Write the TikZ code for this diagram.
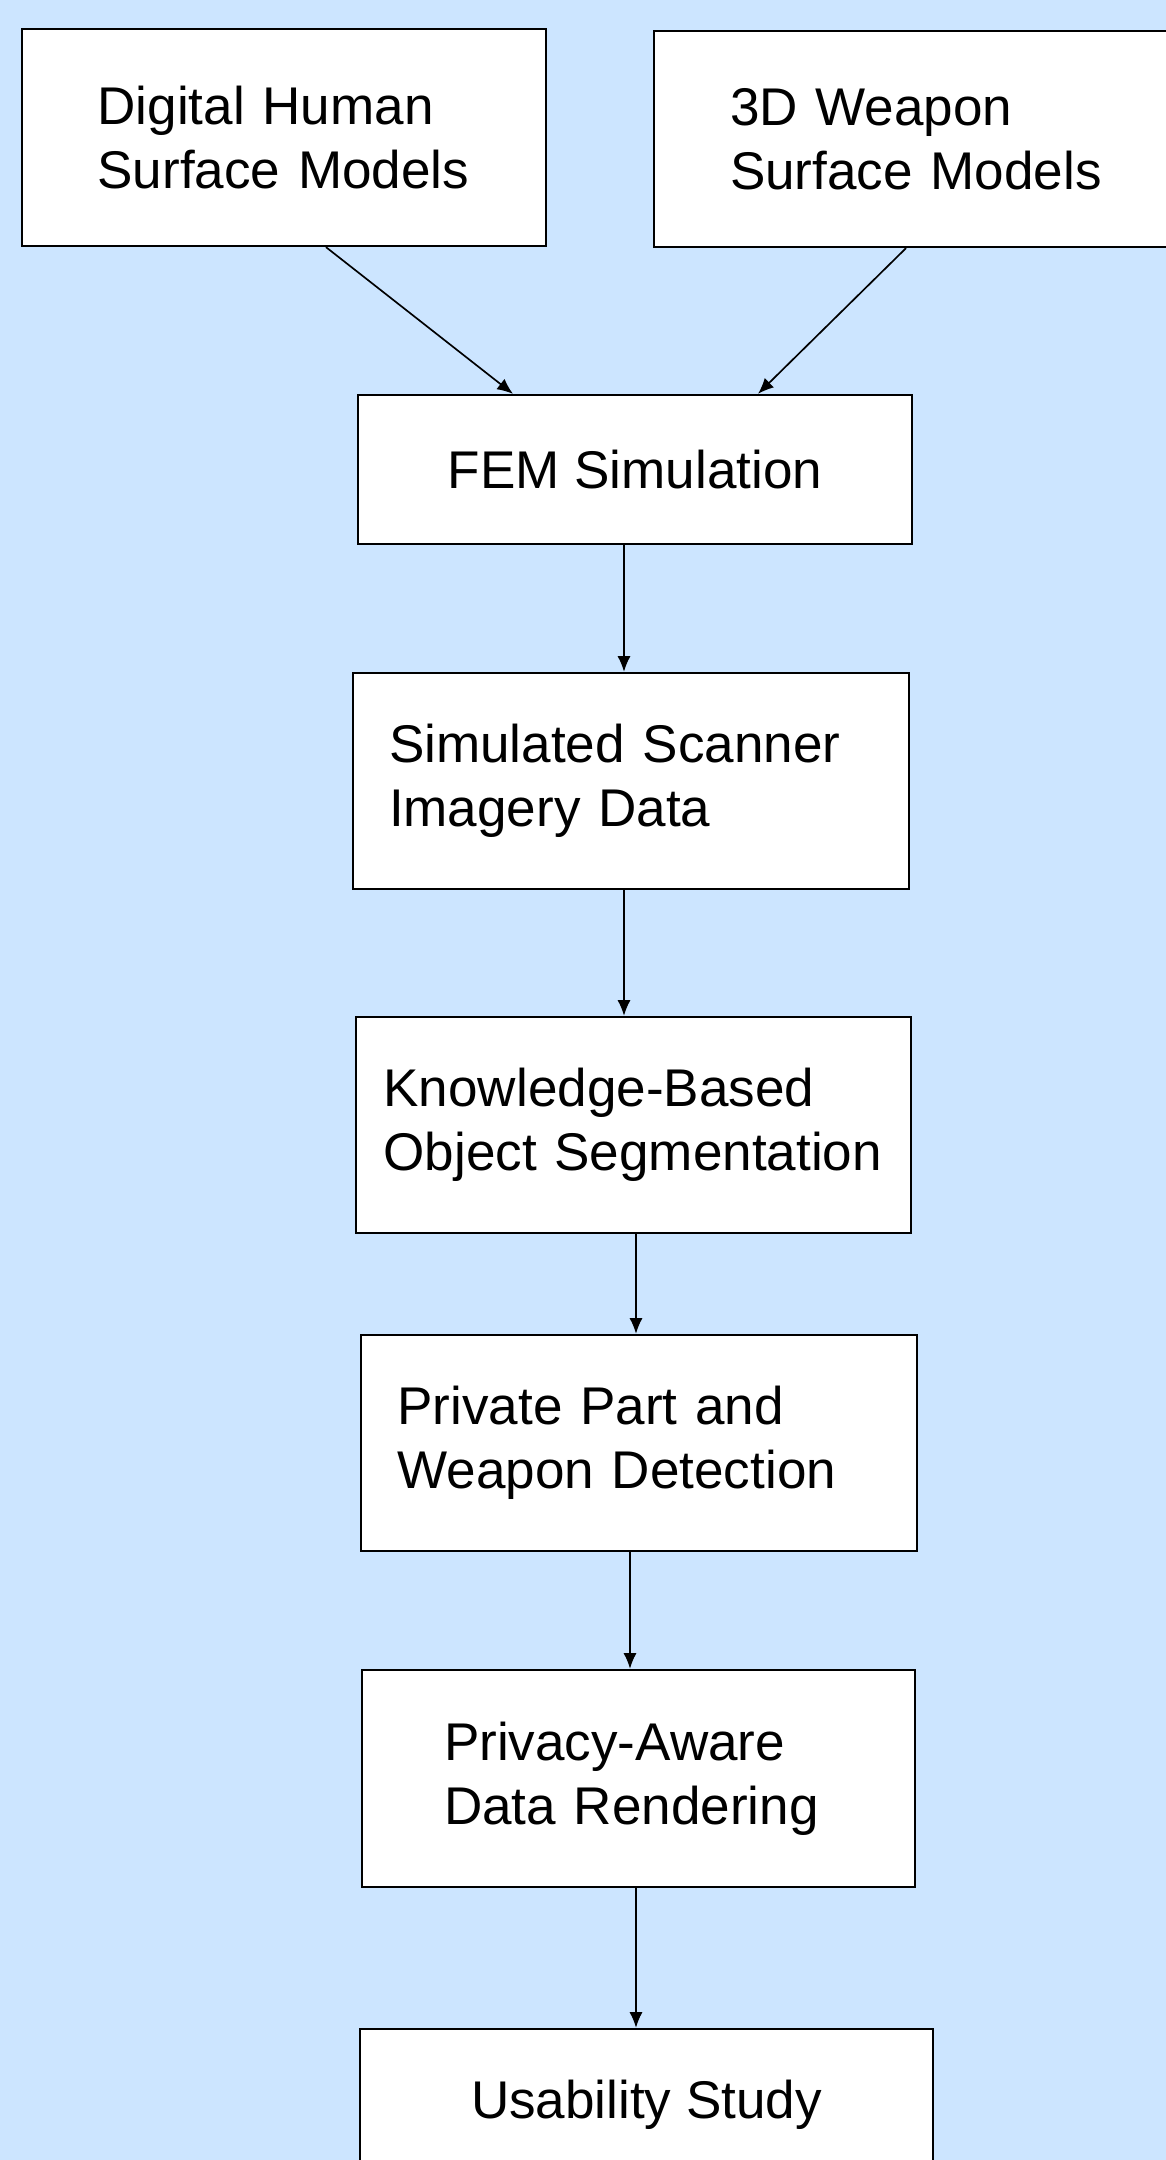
\documentclass[tikz,border=0pt]{standalone}
\usepackage{fontspec}
\setmainfont{Liberation Sans}
\usetikzlibrary{calc,arrows.meta}
\definecolor{bgblue}{RGB}{204,229,255}

\begin{document}
\begin{tikzpicture}[x=2cm,y=-2cm,
  box/.style={draw,line width=1.3pt,fill=white,inner sep=0pt,align=left,
    font=\fontsize{30.2}{36.4}\selectfont},
  arr/.style={line width=0.95pt,-{Latex[length=9pt,width=7.5pt]}}]
  \useasboundingbox (0,0) rectangle (11.66,21.60);
  \clip (0,0) rectangle (11.66,21.60);
  \fill[bgblue] (0,0) rectangle (11.66,21.60);
  \node[box,minimum width=10.48cm,minimum height=4.34cm,text width=7.46cm] (human) at (2.84,1.375) {Digital Human\\Surface Models};
  \node[box,minimum width=10.52cm,minimum height=4.32cm,text width=7.48cm] (weapon) at (9.17,1.39) {3D Weapon\\Surface Models};
  \node[box,minimum width=11.08cm,minimum height=2.98cm] (fem) at (6.35,4.695) {FEM Simulation};
  \node[box,minimum width=11.12cm,minimum height=4.32cm,text width=9.68cm] (scan) at (6.31,7.81) {Simulated Scanner\\Imagery Data};
  \node[box,minimum width=11.10cm,minimum height=4.32cm,text width=10.0cm] (seg) at (6.335,11.25) {Knowledge-Based\\Object Segmentation};
  \node[box,minimum width=11.12cm,minimum height=4.32cm,text width=9.66cm] (detect) at (6.39,14.43) {Private Part and\\Weapon Detection};
  \node[box,minimum width=11.06cm,minimum height=4.34cm,text width=7.78cm] (render) at (6.385,17.785) {Privacy-Aware\\Data Rendering};
  \node[box,minimum width=11.46cm,minimum height=3.02cm] (usab) at (6.465,21.045) {Usability Study};
  \draw[arr] ($(human.south)+(0.42,0)$) -- ($(fem.north)+(-1.22,0)$);
  \draw[arr] ($(weapon.south)+(-0.11,0)$) -- ($(fem.north)+(1.23,0)$);
  \draw[arr] ($(fem.south)+(-0.11,0)$) -- ($(scan.north)+(-0.07,0)$);
  \draw[arr] ($(scan.south)+(-0.07,0)$) -- ($(seg.north)+(-0.095,0)$);
  \draw[arr] ($(seg.south)+(0.025,0)$) -- ($(detect.north)+(-0.03,0)$);
  \draw[arr] ($(detect.south)+(-0.09,0)$) -- ($(render.north)+(-0.085,0)$);
  \draw[arr] ($(render.south)+(-0.025,0)$) -- ($(usab.north)+(-0.105,0)$);
\end{tikzpicture}
\end{document}
